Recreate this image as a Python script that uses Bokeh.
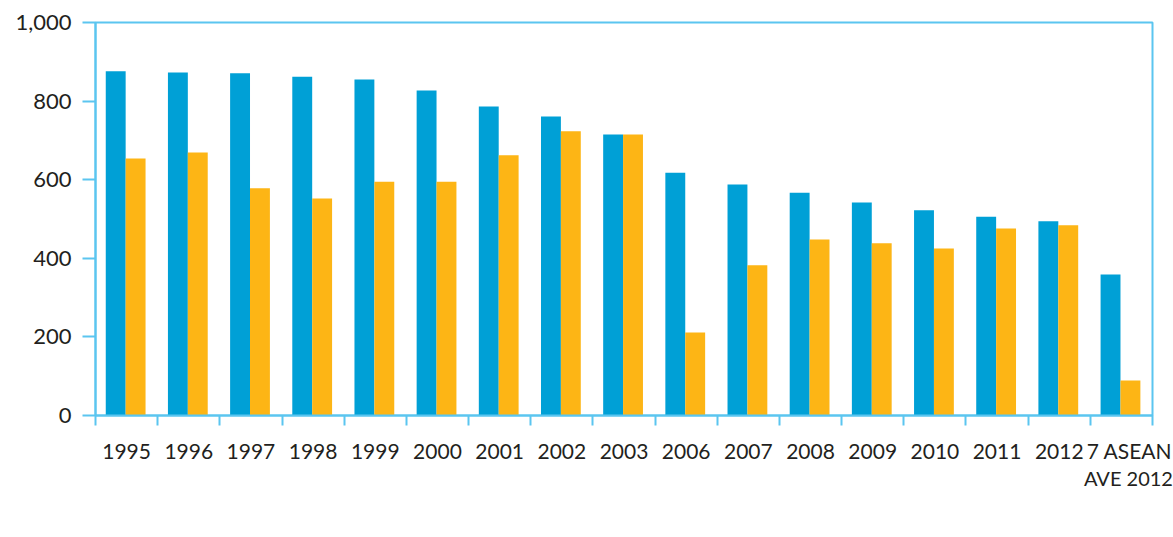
from bokeh.plotting import figure
from bokeh.models import (ColumnDataSource, FixedTicker, NumeralTickFormatter,
                          Legend, LegendItem, Range1d, LinearAxis)
from bokeh.transform import dodge
from bokeh.embed import file_html
from bokeh.resources import INLINE

categories = ["1995", "1996", "1997", "1998", "1999", "2000", "2001", "2002",
              "2003", "2006", "2007", "2008", "2009", "2010", "2011", "2012",
              "7 ASEAN\nAVE 2012"]
tuberculosis = [876, 873, 871, 862, 855, 827, 786, 761, 715, 618, 588, 567,
                542, 522, 506, 494, 359]
malaria = [654, 669, 578, 552, 595, 595, 662, 723, 715, 211, 382, 448,
           438, 425, 476, 484, 89]
y_ticks = [0, 200, 400, 600, 800, 1000]
series_names = ["Tuberculosis prevalence rate (per 100,000 population)",
                "Malaria cases reported (thousand)"]

BLUE = "#00A0D6"
ORANGE = "#FDB515"
AXIS = "#5BC5F0"
TEXT = "#231F20"
FONT = "Lato"

n = len(categories)
src = ColumnDataSource(dict(pos=[i + 0.5 for i in range(n)],
                            tb=tuberculosis, mal=malaria))

p = figure(frame_width=1057, frame_height=393, output_backend="svg",
           toolbar_location=None,
           x_range=Range1d(0, n), y_range=Range1d(0, 1000),
           min_border_left=95, min_border_right=21, min_border_top=22,
           min_border_bottom=0)

r1 = p.vbar(x=dodge("pos", -0.175), top="tb", width=0.32, source=src,
            fill_color=BLUE, line_color=None)
r2 = p.vbar(x=dodge("pos", 0.145), top="mal", width=0.32, source=src,
            fill_color=ORANGE, line_color=None)

p.grid.visible = False
p.outline_line_color = AXIS
p.outline_line_width = 2
p.background_fill_color = "white"
p.border_fill_color = "white"

# x axis: labels centred on categories (last one nudged right), ticks at boundaries
last_lines = categories[-1].split("\n")
label_pos = [i + 0.5 for i in range(n - 1)] + [n - 0.37]
p.xaxis.ticker = FixedTicker(ticks=label_pos, minor_ticks=list(range(n + 1)))
p.xaxis.major_label_overrides = {label_pos[i]: categories[i] for i in range(n - 1)}
p.xaxis.major_label_overrides[label_pos[-1]] = last_lines[0]
p.xaxis.major_tick_out = 0
p.xaxis.major_tick_in = 0
p.xaxis.minor_tick_out = 10
p.xaxis.minor_tick_in = 0
p.xaxis.minor_tick_line_color = AXIS
p.xaxis.minor_tick_line_width = 2
p.xaxis.axis_line_color = AXIS
p.xaxis.axis_line_width = 2
p.xaxis.major_label_standoff = 12
p.xaxis.major_label_text_font = FONT
p.xaxis.major_label_text_font_size = "21px"
p.xaxis.major_label_text_color = TEXT

# second line of the last category label
ax2 = LinearAxis(ticker=FixedTicker(ticks=[label_pos[-1]], minor_ticks=[]),
                 major_label_overrides={label_pos[-1]: last_lines[1]},
                 axis_line_color=None, major_tick_line_color=None,
                 minor_tick_line_color=None, major_tick_out=0, major_tick_in=0,
                 minor_tick_out=0, minor_tick_in=0, major_label_standoff=0,
                 major_label_text_font=FONT, major_label_text_font_size="20px",
                 major_label_text_color=TEXT)
p.add_layout(ax2, "below")

# y axis
p.yaxis.ticker = FixedTicker(ticks=y_ticks)
p.yaxis.formatter = NumeralTickFormatter(format="0,0")
p.yaxis.major_tick_out = 13
p.yaxis.major_tick_in = 0
p.yaxis.minor_tick_out = 0
p.yaxis.minor_tick_in = 0
p.yaxis.major_tick_line_color = AXIS
p.yaxis.major_tick_line_width = 2
p.yaxis.axis_line_color = AXIS
p.yaxis.axis_line_width = 2
p.yaxis.major_label_standoff = 11
p.yaxis.major_label_text_font = FONT
p.yaxis.major_label_text_font_size = "22px"
p.yaxis.major_label_text_color = TEXT

legend = Legend(items=[LegendItem(label=series_names[0], renderers=[r1]),
                       LegendItem(label=series_names[1], renderers=[r2])],
                location="top_center", orientation="horizontal",
                glyph_width=20, glyph_height=24, label_standoff=13,
                spacing=52, padding=0, margin=0, border_line_color=None,
                background_fill_alpha=0,
                label_text_font=FONT, label_text_font_size="23px",
                label_text_color=TEXT)
p.add_layout(legend, "below")

open("out.html", "w").write(file_html(p, INLINE))
